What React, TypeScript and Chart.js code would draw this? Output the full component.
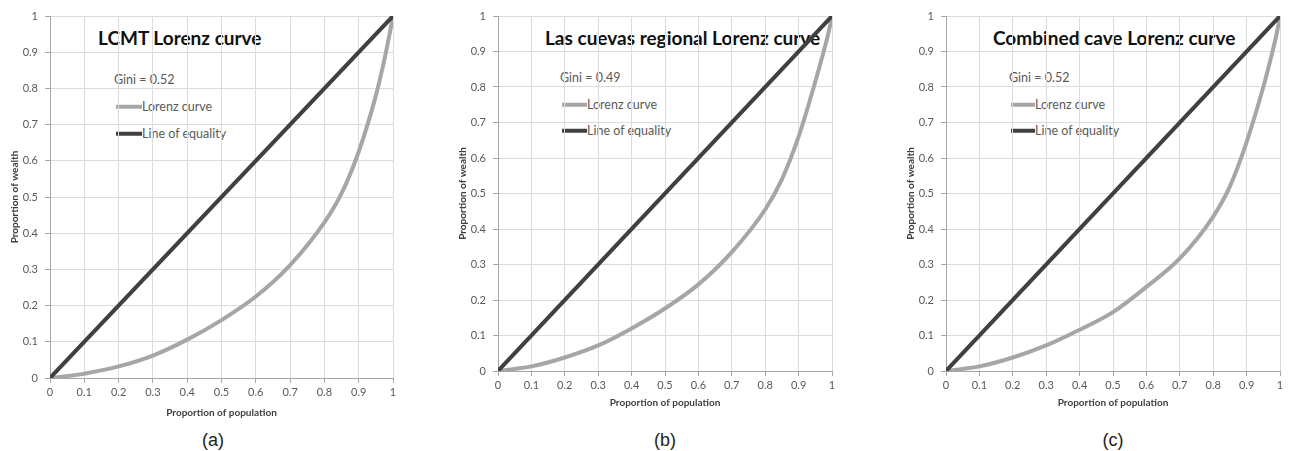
import React, { useEffect, useRef } from "react";
import { Chart, registerables } from "chart.js";

Chart.register(...registerables);

// ---- data ----
const xTickLabels = ["0", "0.1", "0.2", "0.3", "0.4", "0.5", "0.6", "0.7", "0.8", "0.9", "1"];
const yTickLabels = ["0", "0.1", "0.2", "0.3", "0.4", "0.5", "0.6", "0.7", "0.8", "0.9", "1"];

const equalityX = [0, 1];
const equalityY = [0, 1];

const lcmtX = [0, 0.1, 0.2, 0.3, 0.4, 0.5, 0.6, 0.7, 0.8, 0.85, 0.9, 0.95, 0.975, 0.99, 1];
const lcmtY = [0, 0.012, 0.032, 0.062, 0.106, 0.16, 0.225, 0.312, 0.43, 0.51, 0.625, 0.78, 0.88, 0.95, 1];

const regionalX = [0, 0.1, 0.2, 0.3, 0.4, 0.5, 0.6, 0.7, 0.8, 0.85, 0.9, 0.95, 0.975, 0.99, 1];
const regionalY = [0, 0.013, 0.038, 0.072, 0.12, 0.176, 0.244, 0.335, 0.455, 0.54, 0.66, 0.815, 0.9, 0.955, 1];

const combinedX = [0, 0.1, 0.2, 0.3, 0.4, 0.5, 0.6, 0.7, 0.8, 0.85, 0.9, 0.95, 0.975, 0.99, 1];
const combinedY = [0, 0.013, 0.038, 0.072, 0.116, 0.166, 0.237, 0.317, 0.435, 0.52, 0.645, 0.8, 0.89, 0.95, 1];

const panelTitles = ["LCMT Lorenz curve", "Las cuevas regional Lorenz curve", "Combined cave Lorenz curve"];
const giniLabels = ["Gini = 0.52", "Gini = 0.49", "Gini = 0.52"];
const captions = ["(a)", "(b)", "(c)"];
const seriesNames = ["Lorenz curve", "Line of equality"];
const xAxisTitle = "Proportion of population";
const yAxisTitle = "Proportion of wealth";

const lorenzColor = "#a6a6a6";
const equalityColor = "#404040";
const FONT = "Lato, 'Open Sans', sans-serif";

const toPoints = (xs: number[], ys: number[]) => xs.map((x, i) => ({ x, y: ys[i] }));

type Layout = {
  divLeft: number;
  divWidth: number;
  padRight: number;
  padTop: number;
  padBottom: number;
  xH: number;
  titleLeft: number;
  titleCy: number;
  giniLeft: number;
  giniCy: number;
  swLeft: number;
  swWidth: number;
  row1: number;
  row2: number;
  captionCx: number;
};

const layouts: Layout[] = [
  { divLeft: 0, divWidth: 430, padRight: 37, padTop: 16, padBottom: 28, xH: 45, titleLeft: 98, titleCy: 37, giniLeft: 114, giniCy: 80, swLeft: 116, swWidth: 26, row1: 107, row2: 134, captionCx: 213 },
  { divLeft: 448, divWidth: 430, padRight: 46, padTop: 16, padBottom: 38, xH: 42, titleLeft: 545, titleCy: 37, giniLeft: 560, giniCy: 78, swLeft: 562, swWidth: 25, row1: 105, row2: 131, captionCx: 665 },
  { divLeft: 896, divWidth: 393, padRight: 9, padTop: 16, padBottom: 38, xH: 42, titleLeft: 993, titleCy: 37, giniLeft: 1009, giniCy: 78, swLeft: 1011, swWidth: 24, row1: 105, row2: 131, captionCx: 1113 },
];

const lorenzSets = [toPoints(lcmtX, lcmtY), toPoints(regionalX, regionalY), toPoints(combinedX, combinedY)];

function Panel({ index }: { index: number }) {
  const ref = useRef<HTMLCanvasElement | null>(null);
  const L = layouts[index];

  useEffect(() => {
    if (!ref.current) return;
    const chart = new Chart(ref.current, {
      type: "scatter",
      data: {
        datasets: [
          {
            label: seriesNames[1],
            data: toPoints(equalityX, equalityY),
            showLine: true,
            borderColor: equalityColor,
            backgroundColor: equalityColor,
            borderWidth: 4,
            pointRadius: 0,
          },
          {
            label: seriesNames[0],
            data: lorenzSets[index],
            showLine: true,
            borderColor: lorenzColor,
            backgroundColor: lorenzColor,
            borderWidth: 4,
            pointRadius: 0,
            cubicInterpolationMode: "monotone",
          },
        ],
      },
      options: {
        responsive: false,
        animation: false,
        events: [],
        layout: { padding: { left: 0, right: L.padRight, top: L.padTop, bottom: L.padBottom } },
        plugins: { legend: { display: false }, tooltip: { enabled: false }, title: { display: false } },
        scales: {
          x: {
            type: "linear",
            min: 0,
            max: 1,
            afterFit: (s: any) => {
              s.height = L.xH;
            },
            ticks: {
              stepSize: 0.1,
              autoSkip: false,
              maxRotation: 0,
              padding: 3,
              color: "#595959",
              font: { family: FONT, size: 11 },
              callback: (_v: any, i: number) => xTickLabels[i],
            },
            grid: { color: "#dcdcdc", tickColor: "#a6a6a6", tickLength: 5, lineWidth: 1 },
            border: { color: "#a6a6a6", width: 1 },
            title: {
              display: true,
              text: xAxisTitle,
              color: "#404040",
              font: { family: FONT, size: 10, weight: "bold" },
              padding: { top: 0, bottom: 4 },
            },
          },
          y: {
            type: "linear",
            min: 0,
            max: 1,
            afterFit: (s: any) => {
              s.width = 50;
            },
            ticks: {
              stepSize: 0.1,
              autoSkip: false,
              padding: 7,
              color: "#595959",
              font: { family: FONT, size: 11 },
              callback: (_v: any, i: number) => yTickLabels[i],
            },
            grid: { color: "#dcdcdc", tickColor: "#a6a6a6", tickLength: 5, lineWidth: 1 },
            border: { color: "#a6a6a6", width: 1 },
            title: {
              display: true,
              text: yAxisTitle,
              color: "#404040",
              font: { family: FONT, size: 10, weight: "bold" },
              padding: { top: 9, bottom: 0 },
            },
          },
        },
      },
    } as any);
    return () => chart.destroy();
  }, [index]);

  const textBase: React.CSSProperties = {
    position: "absolute",
    fontFamily: FONT,
    whiteSpace: "nowrap",
    lineHeight: "1",
    transform: "translateY(-50%)",
  };

  return (
    <>
      <div style={{ ...textBase, left: L.titleLeft, top: L.titleCy, fontSize: 19, fontWeight: 700, color: "#111" }}>
        {panelTitles[index]}
      </div>
      <div style={{ ...textBase, left: L.giniLeft, top: L.giniCy, fontSize: 12.5, color: "#595959" }}>
        {giniLabels[index]}
      </div>
      {[0, 1].map((k) => (
        <div
          key={k}
          style={{ ...textBase, left: L.swLeft, top: k === 0 ? L.row1 : L.row2, display: "flex", alignItems: "center" }}
        >
          <span
            style={{
              display: "inline-block",
              width: L.swWidth,
              height: 4,
              background: k === 0 ? lorenzColor : equalityColor,
            }}
          />
          <span style={{ fontSize: 12.5, color: "#595959" }}>{seriesNames[k]}</span>
        </div>
      ))}
      <div
        style={{
          ...textBase,
          left: L.captionCx,
          top: 440,
          transform: "translate(-50%, -50%)",
          fontSize: 18,
          color: "#222",
          fontFamily: "'Liberation Sans', sans-serif",
        }}
      >
        {captions[index]}
      </div>
      <div style={{ position: "absolute", left: L.divLeft, top: 0, width: L.divWidth, height: 451, zIndex: 1 }}>
        <canvas ref={ref} width={L.divWidth} height={451} style={{ width: L.divWidth, height: 451, display: "block" }} />
      </div>
    </>
  );
}

export default function App() {
  return (
    <div
      style={{
        position: "absolute",
        left: 0,
        top: 0,
        width: 1289,
        height: 451,
        overflow: "hidden",
        background: "#fff",
      }}
    >
      <Panel index={0} />
      <Panel index={1} />
      <Panel index={2} />
    </div>
  );
}
